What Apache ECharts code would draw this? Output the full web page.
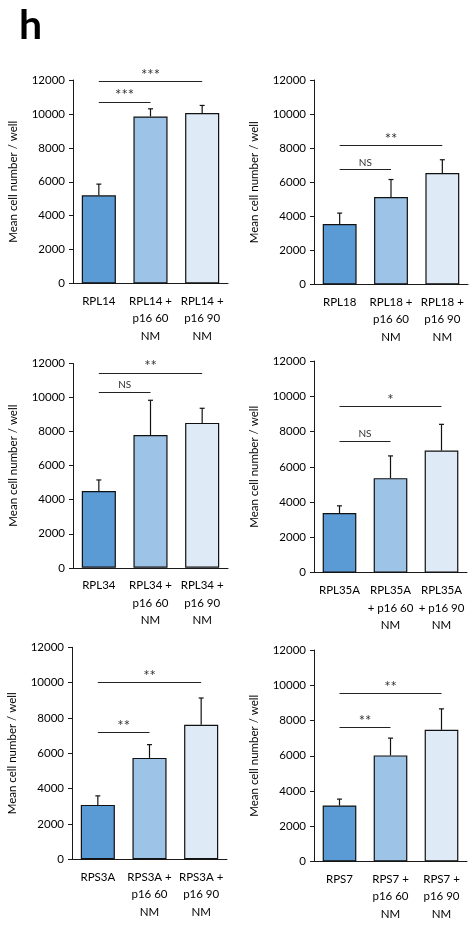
<!DOCTYPE html>
<html>
<head>
<meta charset="utf-8">
<script src="https://cdn.jsdelivr.net/npm/echarts@6/dist/echarts.min.js"></script>
<style>
html,body{margin:0;padding:0;background:#fff;}
#chart{width:476px;height:937px;}
</style>
</head>
<body>
<div id="chart"></div>
<script>
// ---- data ----
const panelLetter = 'h';
const yAxisName = 'Mean cell number / well';
const yTicks = [0, 2000, 4000, 6000, 8000, 10000, 12000];

const cats1 = ['RPL14', 'RPL14 +\np16 60\nNM', 'RPL14 +\np16 90\nNM'];
const cats2 = ['RPL18', 'RPL18 +\np16 60\nNM', 'RPL18 +\np16 90\nNM'];
const cats3 = ['RPL34', 'RPL34 +\np16 60\nNM', 'RPL34 +\np16 90\nNM'];
const cats4 = ['RPL35A', 'RPL35A\n+ p16 60\nNM', 'RPL35A\n+ p16 90\nNM'];
const cats5 = ['RPS3A', 'RPS3A +\np16 60\nNM', 'RPS3A +\np16 90\nNM'];
const cats6 = ['RPS7', 'RPS7 +\np16 60\nNM', 'RPS7 +\np16 90\nNM'];

const mean1 = [5200, 9850, 10050];
const err1  = [660, 450, 450];
const mean2 = [3550, 5130, 6540];
const err2  = [640, 1030, 780];
const mean3 = [4510, 7800, 8510];
const err3  = [650, 2040, 860];
const mean4 = [3380, 5360, 6920];
const err4  = [410, 1260, 1490];
const mean5 = [3080, 5740, 7620];
const err5  = [510, 750, 1510];
const mean6 = [3180, 6020, 7470];
const err6  = [360, 980, 1190];

// significance brackets: [fromIndex, toIndex, yValue, label]
const sig1 = [[0, 2, 11900, '***'], [0, 1, 10700, '***']];
const sig2 = [[0, 2, 8150, '**'], [0, 1, 6750, 'NS']];
const sig3 = [[0, 2, 11450, '**'], [0, 1, 10320, 'NS']];
const sig4 = [[0, 2, 9410, '*'], [0, 1, 7450, 'NS']];
const sig5 = [[0, 2, 10010, '**'], [0, 1, 7180, '**']];
const sig6 = [[0, 2, 9540, '**'], [0, 1, 7600, '**']];

// ---- styles / layout ----
const barColors = ['#5B9BD5', '#9DC3E6', '#DEEBF7'];
const FONT = 'Lato';
const TXT = '#000';

const panels = [
  {cats: cats1, mean: mean1, err: err1, sig: sig1, grid: {left: 73, top: 80, width: 155, height: 203.5}},
  {cats: cats2, mean: mean2, err: err2, sig: sig2, grid: {left: 314, top: 80, width: 154, height: 204.5}},
  {cats: cats3, mean: mean3, err: err3, sig: sig3, grid: {left: 73, top: 363.5, width: 155, height: 204.3}},
  {cats: cats4, mean: mean4, err: err4, sig: sig4, grid: {left: 314, top: 361, width: 153, height: 211.7}},
  {cats: cats5, mean: mean5, err: err5, sig: sig5, grid: {left: 72, top: 647.3, width: 155, height: 212}},
  {cats: cats6, mean: mean6, err: err6, sig: sig6, grid: {left: 314, top: 650, width: 153, height: 211.5}}
];

const grids = [], xAxes = [], yAxes = [], series = [];
panels.forEach((p, i) => {
  grids.push(Object.assign({containLabel: false}, p.grid));
  xAxes.push({
    type: 'category', gridIndex: i, data: p.cats,
    axisLine: {lineStyle: {color: '#1a1a1a', width: 1}},
    axisTick: {show: false},
    axisLabel: {interval: 0, color: TXT, fontSize: 11.5, fontFamily: FONT, lineHeight: 17.5, margin: 9}
  });
  yAxes.push({
    type: 'value', gridIndex: i, min: yTicks[0], max: yTicks[yTicks.length - 1], interval: yTicks[1] - yTicks[0],
    name: yAxisName, nameLocation: 'middle', nameGap: 54,
    nameTextStyle: {color: TXT, fontSize: 11.5, fontFamily: FONT},
    axisLine: {show: true, lineStyle: {color: '#1a1a1a', width: 1}},
    axisTick: {show: true, length: 4, lineStyle: {color: '#1a1a1a'}},
    axisLabel: {color: TXT, fontSize: 11.5, fontFamily: FONT, margin: 8, formatter: v => String(v)},
    splitLine: {show: false}
  });
  series.push({
    type: 'bar', xAxisIndex: i, yAxisIndex: i, barWidth: '66%',
    data: p.mean.map((v, k) => ({value: v, itemStyle: {color: barColors[k]}})),
    itemStyle: {borderColor: '#111', borderWidth: 1.2},
    silent: true, animation: false,
    markLine: {
      symbol: 'none', silent: true, animation: false,
      lineStyle: {color: '#222', width: 1, type: 'solid'},
      label: {show: true, position: 'insideMiddleTop', formatter: '{b}', color: '#333', fontFamily: FONT, fontSize: 10, distance: 2},
      emphasis: {disabled: true},
      data: p.sig.map(s => [
        {name: s[3], coord: [s[0], s[2]],
         label: s[3] === 'NS' ? {fontSize: 10, distance: 2} : {fontSize: 15, distance: -1}},
        {coord: [s[1], s[2]]}
      ])
    }
  });
  series.push({
    type: 'custom', xAxisIndex: i, yAxisIndex: i, silent: true, animation: false, z: 5,
    data: p.mean.map((v, k) => [k, v, p.err[k]]),
    renderItem: function (params, api) {
      const base = api.coord([api.value(0), api.value(1)]);
      const top = api.coord([api.value(0), api.value(1) + api.value(2)]);
      return {
        type: 'group',
        children: [
          {type: 'line', shape: {x1: base[0], y1: base[1], x2: top[0], y2: top[1]}, style: {stroke: '#111', lineWidth: 1.2}},
          {type: 'line', shape: {x1: top[0] - 2.5, y1: top[1], x2: top[0] + 2.5, y2: top[1]}, style: {stroke: '#111', lineWidth: 1.2}}
        ]
      };
    }
  });
});

const chart = echarts.init(document.getElementById('chart'), null, {renderer: 'canvas'});
chart.setOption({
  backgroundColor: '#ffffff',
  animation: false,
  textStyle: {fontFamily: FONT},
  title: {text: panelLetter, left: 14, top: 0, textStyle: {fontSize: 41, fontWeight: 'bold', color: '#000', fontFamily: FONT}},
  grid: grids, xAxis: xAxes, yAxis: yAxes, series: series
});
</script>
</body>
</html>
